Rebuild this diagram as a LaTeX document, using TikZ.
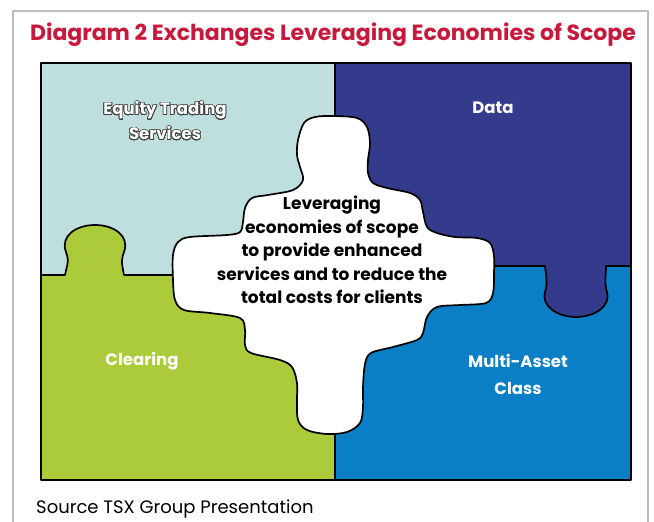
\documentclass[tikz,border=0pt]{standalone}
\usepackage{fontspec}
\setmainfont{Poppins}
\usepackage{contour}
\contourlength{0.65pt}
\contournumber{32}

\definecolor{titleRed}{RGB}{200,24,60}
\definecolor{pzTeal}{RGB}{191,222,222}
\definecolor{pzNavy}{RGB}{53,59,140}
\definecolor{pzGreen}{RGB}{171,203,58}
\definecolor{pzBlue}{RGB}{10,127,198}
\definecolor{frameGray}{RGB}{190,190,190}

\begin{document}
\begin{tikzpicture}[x=1pt,y=-1pt,line join=round,line cap=round,
  piece/.style={draw=black,line width=1.7pt},
  plabel/.style={font=\bfseries\fontsize{16.5}{27}\selectfont,text=white,align=center},
  centertext/.style={font=\bfseries\fontsize{17}{23.5}\selectfont,text=black,align=center}]
\useasboundingbox (0,0) rectangle (654,522);
\fill[white] (0,0) rectangle (654,522);

% page frame
\draw[frameGray,line width=1.3pt] (13,522) -- (13,11) -- (648,11) -- (648,522);

% title
\node[anchor=base,text=titleRed,font=\bfseries\fontsize{22}{25}\selectfont,inner sep=0pt] (title) at (333,41) {Diagram 2 Exchanges Leveraging Economies of Scope};

% four quarters of the puzzle
\fill[pzTeal]  (41,63)  rectangle (335,275);
\fill[pzNavy]  (335,63) rectangle (631,266);
\fill[pzGreen] (41,275) rectangle (335,480);
\fill[pzBlue]  (335,266) rectangle (631,480);

% green knob reaching into the teal piece
\fill[pzGreen] (65,276) .. controls (66,268) and (70,262) .. (66,252)
  .. controls (60,236) and (76,225) .. (95,225)
  .. controls (114,225) and (130,236) .. (124,252)
  .. controls (120,262) and (123,268) .. (124,276) -- cycle;
\draw[piece] (41,275) -- (65,275) .. controls (66,268) and (70,262) .. (66,252)
  .. controls (60,236) and (76,225) .. (95,225)
  .. controls (114,225) and (130,236) .. (124,252)
  .. controls (120,262) and (123,268) .. (124,275) -- (185,275);

% navy knob reaching into the blue piece
\fill[pzNavy] (545,265) .. controls (546,276) and (548,282) .. (545,292)
  .. controls (541,305) and (556,317) .. (576,317)
  .. controls (596,317) and (611,305) .. (607,292)
  .. controls (604,282) and (606,276) .. (606,265) -- cycle;
\draw[piece] (485,266) -- (545,266) .. controls (546,276) and (548,282) .. (545,292)
  .. controls (541,305) and (556,317) .. (576,317)
  .. controls (596,317) and (611,305) .. (607,292)
  .. controls (604,282) and (606,276) .. (606,266) -- (631,266);

% vertical seams
\draw[piece] (335,63) -- (335,125);
\draw[piece] (335,425) -- (335,480);

% central white piece
\draw[piece,fill=white] plot[smooth cycle,tension=0.55] coordinates {
  (333,116) (357,118) (367,127) (370,143) (368,160) (368,173) (373,183)
  (387,188) (410,193) (420,200) (423,212) (427,227) (437,233) (455,237)
  (477,238) (490,243) (494,256) (494,273) (493,293) (486,303) (460,305)
  (437,307) (427,317) (423,333) (417,340) (393,347) (371,353) (365,364)
  (363,387) (363,407) (360,423) (347,432) (327,434) (307,430) (298,420)
  (297,400) (297,383) (292,367) (280,360) (251,353) (245,345) (245,330)
  (240,318) (210,313) (184,310) (175,300) (173,280) (173,255) (178,242)
  (190,237) (227,235) (240,232) (243,222) (245,208) (252,198) (268,195)
  (293,190) (303,180) (300,167) (297,155) (298,140) (304,123) (315,117)};

% outer border
\draw[piece] (41,63) rectangle (631,480);

% labels
\node[font=\bfseries\fontsize{16.5}{25}\selectfont,align=center,text=white] (equity) at (165,121)
  {\contour{black!75}{Equity Trading}\\\contour{black!75}{Services}};
\node[plabel] (data) at (493,108) {Data};
\node[plabel] (clearing) at (142,361) {Clearing};
\node[plabel] (multi) at (518,374.5) {Multi-Asset\\Class};
\node[centertext] (center) at (332,250)
  {Leveraging\\economies of scope\\to provide enhanced\\services and to reduce the\\total costs for clients};

% source line
\node[anchor=base west,inner sep=0pt,font=\fontsize{18}{20}\selectfont] (source) at (36,513) {Source TSX Group Presentation};
\end{tikzpicture}
\end{document}
